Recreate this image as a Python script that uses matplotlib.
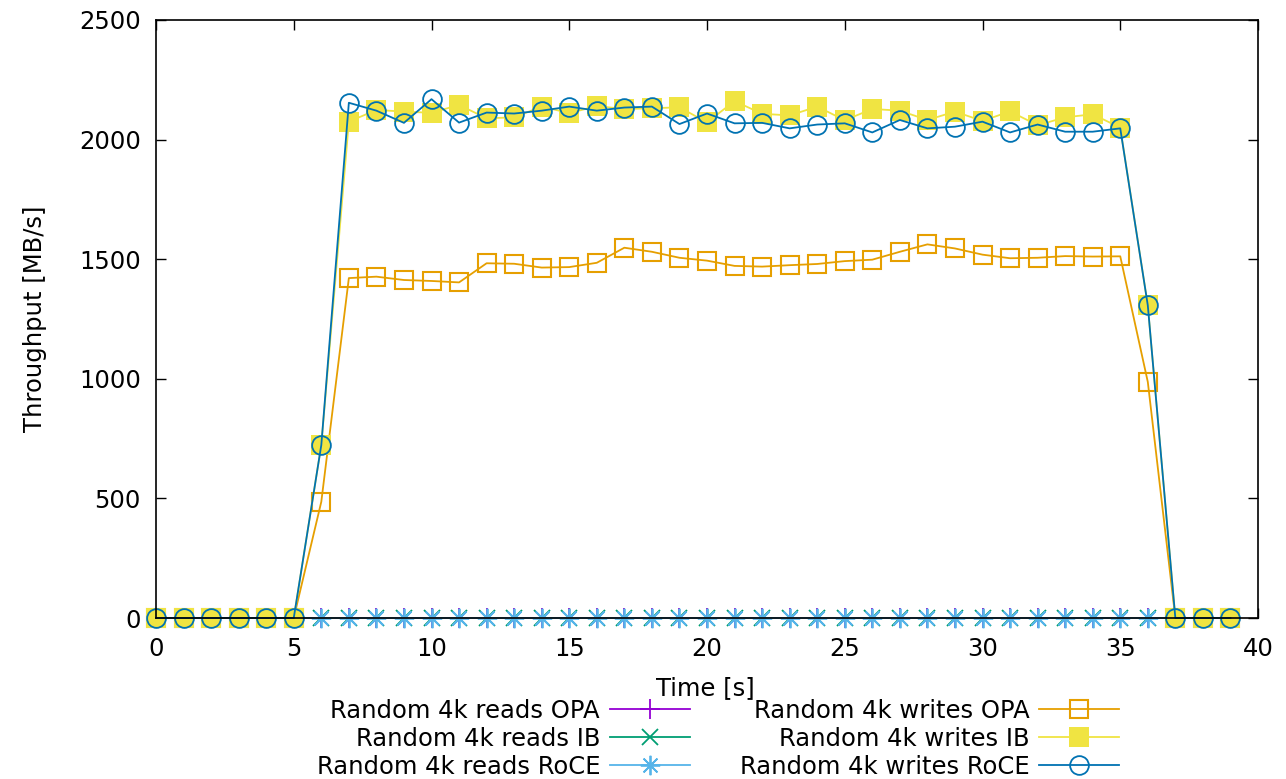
import matplotlib
matplotlib.use("Agg")
import matplotlib.pyplot as plt

time = list(range(40))

reads_opa = [0] * 40
reads_ib = [0] * 40
reads_roce = [0] * 40

writes_opa = [0, 0, 0, 0, 0, 0, 486, 1421, 1427, 1413, 1409, 1403, 1483, 1481, 1465, 1467,
              1485, 1548, 1531, 1506, 1494, 1472, 1469, 1475, 1480, 1492, 1498, 1531, 1562, 1545,
              1519, 1504, 1506, 1513, 1511, 1512, 987, 0, 0, 0]
writes_ib = [0, 0, 0, 0, 0, 0, 723, 2075, 2124, 2117, 2112, 2145, 2089, 2093, 2138, 2111,
             2140, 2128, 2131, 2135, 2072, 2161, 2108, 2101, 2138, 2081, 2128, 2121, 2082, 2117,
             2078, 2118, 2060, 2093, 2106, 2050, 1307, 0, 0, 0]
writes_roce = [0, 0, 0, 0, 0, 0, 723, 2154, 2121, 2070, 2169, 2071, 2113, 2109, 2121, 2138,
               2121, 2134, 2138, 2065, 2109, 2068, 2070, 2047, 2063, 2068, 2030, 2082, 2047, 2054,
               2075, 2030, 2063, 2033, 2033, 2047, 1307, 0, 0, 0]

labels = ["Random 4k reads OPA", "Random 4k reads IB", "Random 4k reads RoCE",
          "Random 4k writes OPA", "Random 4k writes IB", "Random 4k writes RoCE"]
xticks = [0, 5, 10, 15, 20, 25, 30, 35, 40]
yticks = [0, 500, 1000, 1500, 2000, 2500]

W, H = 1286, 779
fig = plt.figure(figsize=(W / 100, H / 100), dpi=100)
ax = fig.add_axes([156 / W, 1 - 618 / H, (1258 - 156) / W, (618 - 20) / H])

lw = 1.3
common = dict(lw=lw, clip_on=False)
ax.plot(time, reads_opa, color="#9400d3", marker="+", ms=14, mew=1.3, label=labels[0], **common)
ax.plot(time, reads_ib, color="#009e73", marker="x", ms=12, mew=1.3, label=labels[1], **common)
ax.plot(time, reads_roce, color="#56b4e9", marker=(8, 2, 0), ms=14, mew=1.3, label=labels[2], **common)
ax.plot(time, writes_opa, color="#e69f00", marker="s", ms=13, mfc="none", mew=1.5, label=labels[3], **common)
ax.plot(time, writes_ib, color="#f0e442", marker="s", ms=14, mfc="#f0e442", mew=0, label=labels[4], **common)
ax.plot(time, writes_roce, color="#0072b2", marker="o", ms=13.5, mfc="none", mew=1.3, label=labels[5], **common)

ax.set_xlim(0, 40)
ax.set_ylim(0, 2500)
ax.set_xticks(xticks)
ax.set_yticks(yticks)
ax.tick_params(direction="in", length=7, width=1, top=True, right=True, labelsize=17.5)
ax.tick_params(axis="x", pad=13.5)
ax.tick_params(axis="y", pad=11)
for s in ax.spines.values():
    s.set_linewidth(1.2)
ax.set_xlabel("Time [s]", fontsize=17.5)
ax.set_ylabel("Throughput [MB/s]", fontsize=17.5)
ax.xaxis.set_label_coords((705 - 156) / (1258 - 156), (618 - 688) / 598)
ax.yaxis.set_label_coords((35 - 156) / (1258 - 156), 0.5)
ax.xaxis.label.set_va("center")
ax.yaxis.label.set_va("center")

handles, labs = ax.get_legend_handles_labels()
fig.legend(handles, labs, ncol=2, markerfirst=False, frameon=False, loc="upper center",
           bbox_to_anchor=(718 / W, 1 - 699 / H), fontsize=17.5, handlelength=3.3,
           columnspacing=2.05, labelspacing=0.16, handletextpad=0.4, borderpad=0, borderaxespad=0)

fig.savefig("out.png", dpi=100)
